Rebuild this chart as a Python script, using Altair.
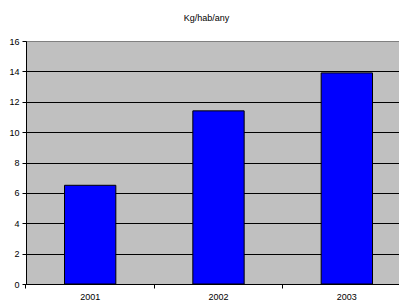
import altair as alt
import pandas as pd

years = ["2001", "2002", "2003"]
values = [6.5, 11.4, 13.9]
y_ticks = [0, 2, 4, 6, 8, 10, 12, 14, 16]
title_text = "Kg/hab/any"

df = pd.DataFrame({"year": years, "value": values})

FONT = "Liberation Sans"

xscale = alt.Scale(range=[0, 385], paddingInner=0.6, paddingOuter=0.3)
yscale = alt.Scale(domain=[0, 16], nice=False)

bars = alt.Chart(df).mark_bar(color="#0000FF", stroke="#000000", strokeWidth=1).encode(
    x=alt.X("year:N", scale=xscale, sort=years,
            axis=alt.Axis(title=None, labels=False, ticks=True, bandPosition=-0.75,
                          orient="bottom",
                          tickColor="#000000", tickSize=4, tickWidth=1,
                          domain=True, domainColor="#000000", domainWidth=1, grid=False)),
    y=alt.Y("value:Q", scale=yscale,
            axis=alt.Axis(title=None, values=y_ticks, grid=True,
                          gridColor=alt.condition("datum.value == 16",
                                                  alt.value("#808080"), alt.value("#000000")),
                          gridWidth=1, tickColor="#000000", tickSize=4,
                          labelOverlap=False, labelFlush=False,
                          domainColor="#000000", labelFont=FONT, labelFontSize=9,
                          labelColor="#000000", labelPadding=3)),
)

labels_layer = alt.Chart(df).mark_point(opacity=0).encode(
    x=alt.X("year:N", scale=xscale, sort=years,
            axis=alt.Axis(title=None, labels=True, ticks=False, tickSize=0, domain=False,
                          orient="bottom",
                          grid=False, labelFont=FONT, labelFontSize=9,
                          labelColor="#000000", labelPadding=8, labelAngle=0)),
)

chart = alt.layer(bars, labels_layer).resolve_axis(x="independent").properties(
    width=373,
    height=243,
    background="#FFFFFF",
    autosize=alt.AutoSizeParams(type="none"),
    padding={"left": 18, "top": 33, "right": 0, "bottom": 16},
    title=alt.TitleParams(title_text, font=FONT, fontSize=9, fontWeight="normal",
                          color="#000000", anchor="middle", dx=-6, offset=14),
).configure_view(
    fill="#C0C0C0", stroke="#808080", strokeWidth=1
)

chart.save("out.html", embed_options={"renderer": "svg", "actions": False})
